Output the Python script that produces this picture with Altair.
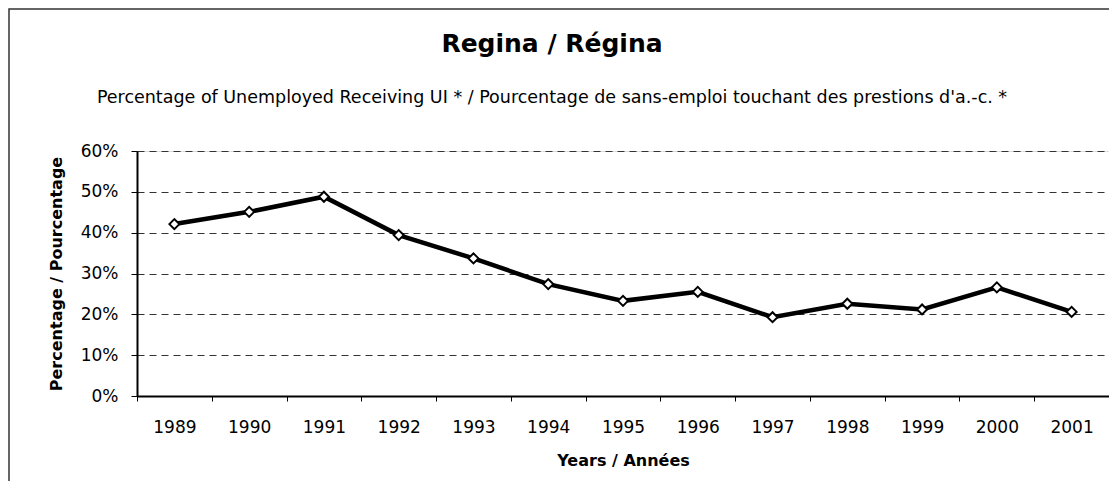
import altair as alt
import pandas as pd

years = ["1989", "1990", "1991", "1992", "1993", "1994", "1995",
         "1996", "1997", "1998", "1999", "2000", "2001"]
share = [0.421, 0.451, 0.488, 0.394, 0.337, 0.274, 0.233,
         0.255, 0.193, 0.226, 0.212, 0.266, 0.206]
y_ticks = [0, 0.1, 0.2, 0.3, 0.4, 0.5, 0.6]

df = pd.DataFrame({"Year": years, "Share": share})

FONT = "DejaVu Sans"

x_enc = alt.X(
    "Year:O",
    bandPosition=0.5,
    title="Years / Années",
    scale=alt.Scale(type="band", paddingInner=0, paddingOuter=0),
    axis=alt.Axis(
        labelAngle=0,
        tickBand="extent",
        tickSize=5,
        tickColor="black",
        tickWidth=1,
        domainColor="black",
        domainWidth=2,
        labelFont=FONT,
        labelFontSize=17,
        labelColor="black",
        labelPadding=18,
        titleFont=FONT,
        titleFontSize=16,
        titleFontWeight="bold",
        titleColor="black",
        titlePadding=17,
        grid=False,
    ),
)

y_enc = alt.Y(
    "Share:Q",
    title="Percentage / Pourcentage",
    scale=alt.Scale(domain=[0, 0.6], nice=False),
    axis=alt.Axis(
        format=".0%",
        values=y_ticks,
        grid=True,
        gridDash=[7, 5],
        gridColor="#333333",
        gridWidth=1,
        tickSize=6,
        tickColor="black",
        domainColor="black",
        domainWidth=2,
        labelFont=FONT,
        labelFontSize=17,
        labelColor="black",
        labelPadding=13,
        titleFont=FONT,
        titleFontSize=16,
        titleFontWeight="bold",
        titleColor="black",
        titlePadding=16,
    ),
)

base = alt.Chart(df)

line = base.mark_line(color="black", strokeWidth=4.5).encode(x=x_enc, y=y_enc)
points = base.mark_point(
    shape="diamond", filled=True, fill="white", stroke="black",
    strokeWidth=2, size=100, opacity=1
).encode(x=x_enc, y=y_enc)

frame = alt.Chart(pd.DataFrame({"f": [0]})).mark_rect(
    filled=False, stroke="#333333", strokeWidth=1.5
).encode(
    x=alt.value(-128), x2=alt.value(1200),
    y=alt.value(-142), y2=alt.value(500),
)

chart = alt.layer(frame, line, points).properties(
    width=972,
    height=245,
    autosize=alt.AutoSizeParams(type="none"),
    padding={"left": 129, "top": 143, "right": 0, "bottom": 85},
    title=alt.TitleParams(
        text="Regina / Régina",
        subtitle="Percentage of Unemployed Receiving UI * / Pourcentage de sans-emploi touchant des prestions d'a.-c. *",
        font=FONT,
        fontSize=25,
        fontWeight="bold",
        color="black",
        subtitleFont=FONT,
        subtitleFontSize=17.5,
        subtitleColor="black",
        subtitlePadding=32,
        anchor="middle",
        frame="group",
        dx=-71,
        offset=-98,
    ),
).configure_view(stroke="black", strokeWidth=1).configure(background="white")

chart.save("out.html", embed_options={"renderer": "svg", "actions": False})
